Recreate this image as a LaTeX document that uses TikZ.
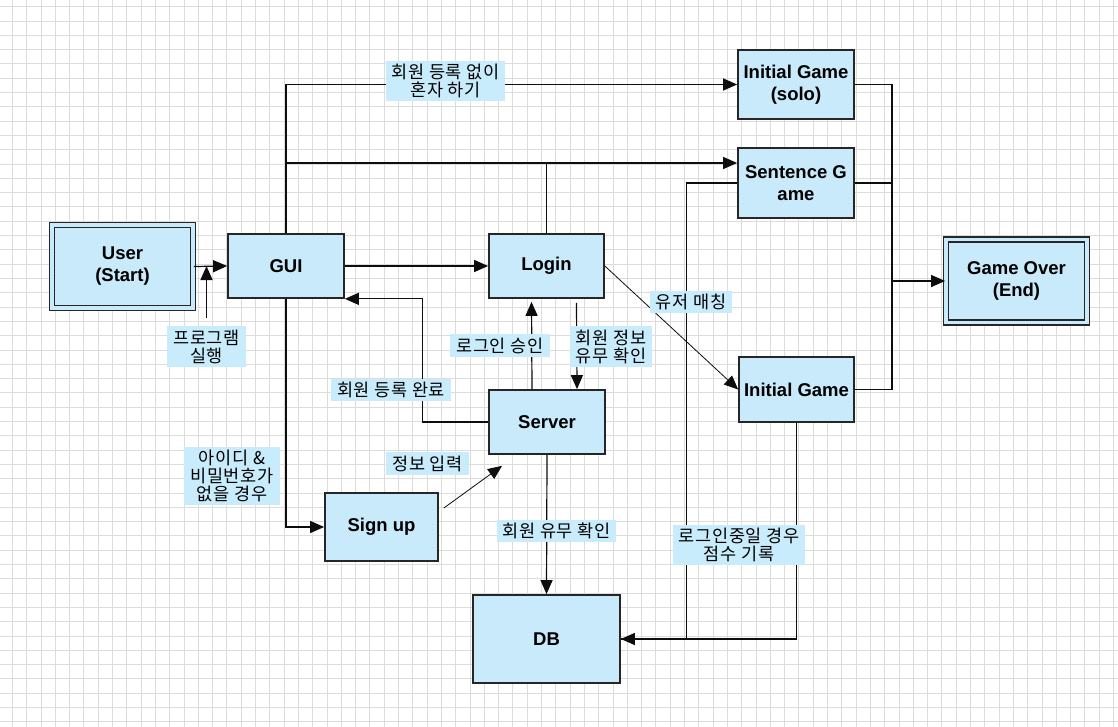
\documentclass[tikz,border=0pt]{standalone}
\usepackage{fontspec}
\setmainfont{Liberation Sans}
\newfontfamily\kor[LetterSpace=4]{Noto Sans CJK KR}
\usetikzlibrary{arrows.meta}
\definecolor{boxblue}{HTML}{C8EAFA}
\definecolor{tagblue}{HTML}{C9ECFC}
\definecolor{gridgray}{HTML}{DCDCDC}
\begin{document}
\begin{tikzpicture}[x=1pt,y=-1pt,>={Triangle[length=14pt,width=12pt]},
  box/.style={draw=black!85,line width=1.7pt,fill=boxblue,inner sep=0pt,align=center,font=\fontsize{18.5}{22}\selectfont\bfseries},
  endbox/.style={box,double=boxblue,double distance=3.2pt,line width=1.8pt},
  tag/.style={fill=tagblue,inner xsep=6pt,inner ysep=3.5pt,align=center,font=\kor\fontsize{17.5}{18}\selectfont},
  link/.style={draw=black!95,line width=1.2pt},
  thinlink/.style={draw=black!95,line width=0.8pt}]
\useasboundingbox (0,0) rectangle (1118,727);
\fill[white] (0,0) rectangle (1118,727);
% grid
\foreach \i in {0,...,77}
{
    \draw[gridgray,line width=0.8pt] (12.3+14.3*\i,0)--(12.3+14.3*\i,727);
}
\foreach \j in {0,...,50}
{
    \draw[gridgray,line width=0.8pt] (0,6.7+14.3*\j)--(1118,6.7+14.3*\j);
}

% boxes
\node[endbox,minimum width=141pt,minimum height=83pt] (user) at (122.5,266.5) {User\\(Start)};
\node[box,minimum width=116pt,minimum height=64pt] (gui) at (286,266) {GUI};
\node[box,minimum width=115pt,minimum height=64pt] (login) at (546.5,266) {Login};
\node[box,minimum width=116pt,minimum height=69pt] (solo) at (796,84.5) {Initial Game\\(solo)};
\node[box,minimum width=116pt,minimum height=70pt] (sentence) at (796,183) {Sentence G\\ame};
\node[endbox,minimum width=141pt,minimum height=83pt] (over) at (1016.5,281) {Game Over\\(End)};
\node[box,minimum width=115pt,minimum height=65pt] (initial) at (796.5,389.5) {Initial Game};
\node[box,minimum width=116pt,minimum height=64pt] (server) at (547,422) {Server};
\node[box,minimum width=113pt,minimum height=68pt] (signup) at (381.5,527) {Sign up};
\node[box,minimum width=147pt,minimum height=88pt] (db) at (546.5,639) {DB};

\coordinate (sgin) at ([yshift=20pt]sentence.west);
\coordinate (join) at (892,281);

% connectors
\draw[link,->] (user.east)--(gui.west);
\draw[link,->] (gui.north) |- (solo.west);
\draw[link,->] (gui.north |- sgin)--(sgin);
\draw[link] (login.north)--(login.north |- sgin);
\draw[link,->] (gui.east)--(login.west);
\draw[link,->] (server.west)--++(-66,0) |- (gui.south east);
\draw[link,->] ([xshift=-15pt]server.north)--([xshift=-15pt,yshift=-3pt]login.south);
\draw[link,->] ([xshift=30pt,yshift=-4pt]login.south)--([xshift=30pt]server.north);
\draw[thinlink,->] (login.east)--(initial.west);
\draw[link,->] (gui.south) |- (signup.west);
\draw[thinlink,->] ([xshift=5pt,yshift=19pt]signup.east)--([xshift=-45pt,yshift=-11pt]server.south);
\draw[link,->] (server.south)--(db.north);
\draw[link,->] (sentence.west)--++(-51,0) |- (db.east);
\draw[link] (initial.south) |- (db.east);
\draw[link] (solo.east) -| (join);
\draw[link] (sentence.east) -| (join);
\draw[link] (initial.east) -| (join);
\draw[link,->] (join)--(over.west);

% labels
\node[tag] (tagsolo) at (445.5,81) {회원 등록 없이\\혼자 하기};
\node[tag] (tagok) at (500,345.5) {로그인 승인};
\node[tag] (tagcheck) at (611,346.5) {회원 정보\\유무 확인};
\node[tag] (tagmatch) at (691,302) {유저 매칭};
\node[tag] (tagdone) at (391,390) {회원 등록 완료};
\node[tag] (tagnoid) at (232,476) {아이디 \&\\비밀번호가\\없을 경우};
\node[tag] (taginput) at (427.5,463.5) {정보 입력};
\node[tag] (tagmember) at (556.5,531) {회원 유무 확인};
\node[tag] (tagscore) at (739,545) {로그인중일 경우\\점수 기록};
\node[tag] (tagrun) at (206.5,346.5) {프로그램\\실행};
\draw[link,->] ([yshift=8pt]tagrun.north)--(tagrun.north |- gui.west);
\end{tikzpicture}
\end{document}
